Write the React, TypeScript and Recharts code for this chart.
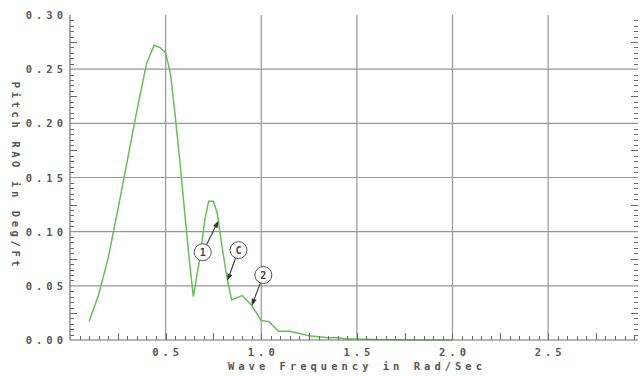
import React from 'react';
import { LineChart, Line, XAxis, YAxis, ReferenceLine, ReferenceDot } from 'recharts';

const freq = [0.10, 0.15, 0.20, 0.25, 0.30, 0.35, 0.40, 0.44, 0.47, 0.50, 0.525, 0.55, 0.575, 0.60, 0.625, 0.645, 0.68, 0.705, 0.725, 0.75, 0.77, 0.795, 0.82, 0.845, 0.90, 0.95, 1.00, 1.04, 1.09, 1.15, 1.20, 1.25, 1.30, 1.35, 1.40, 1.45, 1.50, 1.60, 1.70, 1.80, 1.90, 2.00];
const rao = [0.017, 0.042, 0.076, 0.120, 0.166, 0.212, 0.255, 0.272, 0.270, 0.265, 0.246, 0.207, 0.164, 0.117, 0.072, 0.040, 0.077, 0.111, 0.128, 0.128, 0.117, 0.086, 0.058, 0.037, 0.041, 0.032, 0.018, 0.017, 0.008, 0.008, 0.006, 0.004, 0.003, 0.002, 0.002, 0.001, 0.001, 0.0005, 0.0002, 0, 0, 0];

const xDomainMax = 2.97;
const xMajorTicks = [0.5, 1.0, 1.5, 2.0, 2.5];
const yMajorTicks = [0.05, 0.10, 0.15, 0.20, 0.25];
const yLabelTicks = [0, 0.05, 0.10, 0.15, 0.20, 0.25, 0.30];
const xMinorTicks = Array.from({ length: 59 }, (_, i) => Number(((i + 1) * 0.05).toFixed(2)));
const yMinorTicks = Array.from({ length: 59 }, (_, i) => Number(((i + 1) * 0.005).toFixed(3))).filter(
  (v) => Math.round(v * 1000) % 50 !== 0
);

const annotationLabels = ['1', 'C', '2'];
const annotationFreq = [0.694, 0.881, 1.011];
const annotationRao = [0.081, 0.083, 0.060];
const arrowTipFreq = [0.776, 0.823, 0.950];
const arrowTipRao = [0.110, 0.0548, 0.0317];

const data = freq.map((f, i) => ({ f, v: rao[i] }));

const FONT = '"DejaVu Sans Mono", "Liberation Mono", monospace';
const TEXT_COLOR = '#585858';
const AXIS_COLOR = '#6e6e6e';
const TICK_COLOR = '#6a6a6a';

const px = (v: number) => Math.round(v) + 0.5;

const BottomTick = (props: any) => {
  const x = Number(props.x);
  const y = Number(props.y);
  const value = Number(props.payload.value);
  const k = Math.round(value * 100);
  const major = k % 50 === 0;
  const mid = k % 25 === 0;
  const len = major ? 7 : mid ? 7 : 4;
  const xx = px(x);
  return (
    <g>
      <line x1={xx} y1={y} x2={xx} y2={y - len} stroke={TICK_COLOR} strokeWidth={1} />
      {major && (
        <text x={x + 2} y={y + 16} textAnchor="middle" fontFamily={FONT} fontSize={10.5} fontWeight="bold" letterSpacing={4} fill={TEXT_COLOR}>
          {value.toFixed(1)}
        </text>
      )}
    </g>
  );
};

const TopTick = (props: any) => {
  const x = Number(props.x);
  const y = Number(props.y);
  const k = Math.round(Number(props.payload.value) * 100);
  const mid = k % 25 === 0;
  const len = mid ? 7 : 4;
  const xx = px(x);
  return <line x1={xx} y1={y} x2={xx} y2={y + len} stroke={TICK_COLOR} strokeWidth={1} />;
};

const LeftLabel = (props: any) => {
  const x = Number(props.x);
  const y = Number(props.y);
  const value = Number(props.payload.value);
  return (
    <text x={x - 3} y={y + 4} textAnchor="end" fontFamily={FONT} fontSize={10.5} fontWeight="bold" letterSpacing={4} fill={TEXT_COLOR}>
      {value.toFixed(2)}
    </text>
  );
};

// Segment from x=0 to x=xDomainMax at the tick value: draw inward stubs at both ends.
const makeStub = (value: number) => (props: any) => {
  const a = Number(props.x1);
  const b = Number(props.x2);
  const y = px(Number(props.y1));
  const k = Math.round(value * 1000);
  const len = k % 25 === 0 ? 7 : 4;
  const dir = b >= a ? 1 : -1;
  return (
    <g>
      <rect x={dir > 0 ? a : a - len} y={y - 0.5} width={len} height={1} fill={TICK_COLOR} />
      <rect x={dir > 0 ? b - len : b} y={y - 0.5} width={len} height={1} fill={TICK_COLOR} />
    </g>
  );
};

const CIRCLE_R = 8.5;

const makeCircle = (label: string) => (props: any) => {
  const { cx, cy } = props;
  return (
    <g>
      <circle cx={cx} cy={cy} r={CIRCLE_R} fill="#ffffff" stroke="#555" strokeWidth={1} />
      <text x={cx} y={cy + 3.5} textAnchor="middle" fontFamily={FONT} fontSize={10} fontWeight="bold" fill="#444">
        {label}
      </text>
    </g>
  );
};

const ArrowShape = (props: any) => {
  const { x1, y1, x2, y2 } = props;
  const dx = x2 - x1;
  const dy = y2 - y1;
  const d = Math.sqrt(dx * dx + dy * dy) || 1;
  const ux = dx / d;
  const uy = dy / d;
  const sx = x1 + ux * CIRCLE_R;
  const sy = y1 + uy * CIRCLE_R;
  const hl = 7;
  const hw = 2.6;
  const bx = x2 - ux * hl;
  const by = y2 - uy * hl;
  const pts = `${x2},${y2} ${bx - uy * hw},${by + ux * hw} ${bx + uy * hw},${by - ux * hw}`;
  return (
    <g>
      <line x1={sx} y1={sy} x2={bx} y2={by} stroke="#444" strokeWidth={1.2} />
      <polygon points={pts} fill="#333" />
    </g>
  );
};

export default function App() {
  return (
    <div style={{ position: 'absolute', left: 0, top: 0, background: '#fff' }}>
      <LineChart width={640} height={377} data={data} margin={{ top: 15, right: 2, bottom: 0, left: 0 }}>
        <XAxis
          xAxisId="top"
          orientation="top"
          type="number"
          dataKey="f"
          domain={[0, xDomainMax]}
          ticks={xMinorTicks}
          interval={0}
          height={0}
          tickSize={0}
          tickMargin={0}
          tickLine={false}
          tick={<TopTick />}
          axisLine={{ stroke: AXIS_COLOR, strokeWidth: 1.2 }}
        />
        <XAxis
          xAxisId="main"
          orientation="bottom"
          type="number"
          dataKey="f"
          domain={[0, xDomainMax]}
          ticks={xMinorTicks}
          interval={0}
          height={37}
          tickSize={0}
          tickMargin={0}
          tickLine={false}
          tick={<BottomTick />}
          axisLine={{ stroke: AXIS_COLOR, strokeWidth: 1.2 }}
          label={{
            content: (p: any) => {
              const vb = p.viewBox || { x: 70, y: 340, width: 568, height: 37 };
              return (
                <text x={vb.x + vb.width / 2 + 3} y={vb.y + 30} textAnchor="middle" fontFamily={FONT} fontSize={10.5} fontWeight="bold" letterSpacing={4} fill={TEXT_COLOR}>
                  Wave Frequency in Rad/Sec
                </text>
              );
            },
          }}
        />
        <YAxis
          yAxisId="main"
          orientation="left"
          type="number"
          domain={[0, 0.3]}
          ticks={yLabelTicks}
          interval={0}
          width={70}
          tickSize={0}
          tickMargin={0}
          tickLine={false}
          tick={<LeftLabel />}
          axisLine={{ stroke: AXIS_COLOR, strokeWidth: 1.2 }}
          label={{
            content: () => (
              <text
                x={16}
                y={176}
                transform="rotate(90 16 176)"
                textAnchor="middle"
                dominantBaseline="central"
                fontFamily={FONT}
                fontSize={10.5}
                fontWeight="bold"
                letterSpacing={3.6}
                fill={TEXT_COLOR}
              >
                Pitch RAO in Deg/Ft
              </text>
            ),
          }}
        />
        <YAxis
          yAxisId="right"
          orientation="right"
          type="number"
          domain={[0, 0.3]}
          width={0}
          tick={false}
          tickLine={false}
          axisLine={{ stroke: AXIS_COLOR, strokeWidth: 1.2 }}
        />
        {xMajorTicks.map((t) => (
          <ReferenceLine key={`gx${t}`} xAxisId="main" yAxisId="main" x={t} stroke="#979797" strokeWidth={1.2} />
        ))}
        {yMajorTicks.map((t) => (
          <ReferenceLine key={`gy${t}`} xAxisId="main" yAxisId="main" y={t} stroke="#979797" strokeWidth={1.2} />
        ))}
        {yMinorTicks.map((t) => (
          <ReferenceLine
            key={`my${t}`}
            xAxisId="main"
            yAxisId="main"
            segment={[
              { x: 0, y: t },
              { x: xDomainMax, y: t },
            ]}
            ifOverflow="visible"
            shape={makeStub(t)}
          />
        ))}
        <Line
          xAxisId="main"
          yAxisId="main"
          type="linear"
          dataKey="v"
          stroke="#68bf56"
          strokeWidth={1.5}
          dot={false}
          isAnimationActive={false}
        />
        {annotationLabels.map((lab, i) => (
          <ReferenceLine
            key={`ar${lab}`}
            xAxisId="main"
            yAxisId="main"
            segment={[
              { x: annotationFreq[i], y: annotationRao[i] },
              { x: arrowTipFreq[i], y: arrowTipRao[i] },
            ]}
            shape={ArrowShape}
          />
        ))}
        {annotationLabels.map((lab, i) => (
          <ReferenceDot
            key={`dot${lab}`}
            xAxisId="main"
            yAxisId="main"
            x={annotationFreq[i]}
            y={annotationRao[i]}
            r={CIRCLE_R}
            shape={makeCircle(lab)}
          />
        ))}
      </LineChart>
    </div>
  );
}
